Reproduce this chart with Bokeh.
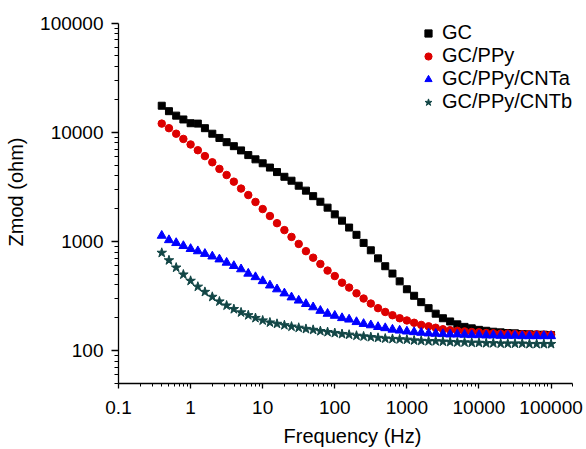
from bokeh.plotting import figure
from bokeh.models import FixedTicker, CustomJSTickFormatter, Legend, LegendItem
from bokeh.embed import file_html
from bokeh.resources import INLINE

freq = [0.398, 0.501, 0.631, 0.794, 1, 1.26, 1.58, 2, 2.51, 3.16, 3.98, 5.01, 6.31, 7.94,
        10, 12.6, 15.8, 20, 25.1, 31.6, 39.8, 50.1, 63.1, 79.4,
        100, 126, 158, 200, 251, 316, 398, 501, 631, 794,
        1000, 1260, 1580, 2000, 2510, 3160, 3980, 5010, 6310, 7940,
        10000, 12600, 15800, 20000, 25100, 31600, 39800, 50100, 63100, 79400, 100000]

gc = [17500, 15600, 14200, 13100, 12100, 12000, 10900, 9700, 8870, 8110, 7460, 6820, 6180, 5650,
      5200, 4750, 4320, 3910, 3600, 3240, 2920, 2600, 2310, 2040,
      1770, 1550, 1340, 1150, 970, 830, 700, 593, 508, 431,
      365, 318, 278, 245, 218, 198, 185, 174, 165, 160,
      155, 152, 149, 147, 145, 144, 142, 141, 140, 140, 139]

gc_ppy = [12000, 10900, 9700, 8690, 7730, 6850, 6050, 5310, 4620, 4060, 3530, 3050, 2660, 2300,
          1980, 1710, 1470, 1270, 1100, 949, 815, 710, 622, 541,
          482, 419, 378, 335, 300, 270, 245, 226, 211, 198,
          189, 180, 172, 167, 162, 157, 154, 152, 150, 148,
          147, 145, 144, 143, 143, 142, 141, 141, 141, 140, 140]

gc_ppy_cnta = [1130, 1030, 969, 910, 855, 815, 771, 730, 686, 640, 597, 557, 508, 472,
               434, 396, 365, 335, 308, 288, 268, 250, 232, 218,
               209, 199, 193, 183, 176, 171, 165, 161, 156, 153,
               150, 148, 146, 144, 143, 142, 141, 141, 140, 139,
               139, 138, 138, 137, 137, 137, 136, 136, 136, 136, 136]

gc_ppy_cntb = [787, 672, 576, 498, 436, 385, 345, 311, 282, 259, 240, 224, 211, 199,
               189, 181, 176, 171, 166, 162, 158, 155, 151, 148,
               145, 142, 140, 137, 135, 133, 131, 129, 128, 127,
               126, 124, 123, 122, 122, 121, 120, 119, 119, 118,
               118, 117, 117, 116, 116, 116, 116, 115, 115, 115, 115]

series_names = ["GC", "GC/PPy", "GC/PPy/CNTa", "GC/PPy/CNTb"]
x_ticks = [0.1, 1, 10, 100, 1000, 10000, 100000]
y_ticks = [100, 1000, 10000, 100000]

FONT = "Liberation Sans"

p = figure(width=586, height=449, x_axis_type="log", y_axis_type="log",
           x_range=(0.1, 310000), y_range=(50, 161000),
           output_backend="svg", toolbar_location=None,
           min_border_left=118, min_border_right=0, min_border_top=0, min_border_bottom=61)
p.outline_line_color = None
p.xgrid.visible = False
p.ygrid.visible = False
p.background_fill_color = "white"
p.border_fill_color = "white"

x_minor = [m * 10.0 ** e for e in range(-1, 6) for m in range(2, 10) if m * 10.0 ** e <= 200000]
y_minor = [m * 10.0 ** e for e in range(1, 5) for m in range(2, 10) if m * 10.0 ** e >= 50]
p.xaxis.ticker = FixedTicker(ticks=x_ticks, minor_ticks=x_minor)
p.yaxis.ticker = FixedTicker(ticks=y_ticks, minor_ticks=y_minor)
p.xaxis.formatter = CustomJSTickFormatter(code="return tick < 1 ? tick.toFixed(1) : tick.toFixed(0);")
p.yaxis.formatter = CustomJSTickFormatter(code="return tick.toFixed(0);")
p.xaxis.bounds = (0.1, 200000)
p.yaxis.bounds = (50, 100000)

for ax in (p.xaxis, p.yaxis):
    ax.axis_line_color = "black"
    ax.axis_line_width = 1.3
    ax.major_tick_line_color = "black"
    ax.minor_tick_line_color = "black"
    ax.major_tick_line_width = 1.3
    ax.minor_tick_line_width = 1
    ax.major_tick_in = 0
    ax.minor_tick_in = 0
    ax.major_label_text_font = FONT
    ax.major_label_text_font_size = "19px"
    ax.major_label_text_color = "black"
    ax.axis_label_text_font = FONT
    ax.axis_label_text_font_size = "20px"
    ax.axis_label_text_font_style = "normal"
    ax.axis_label_text_color = "black"

p.xaxis.major_tick_out = 5
p.xaxis.minor_tick_out = 3
p.yaxis.major_tick_out = 7
p.yaxis.minor_tick_out = 4
p.xaxis.major_label_standoff = 12
p.yaxis.major_label_standoff = 8
p.xaxis.axis_label = "Frequency (Hz)"
p.yaxis.axis_label = "Zmod (ohm)"
p.xaxis.axis_label_standoff = 8
p.yaxis.axis_label_standoff = 10

r1 = p.scatter(freq, gc, marker="square", size=7, color="#000000")
r2 = p.scatter(freq, gc_ppy, marker="circle", size=7.5, color="#dd0000")
r3 = p.scatter(freq, gc_ppy_cnta, marker="triangle", size=9, color="#0000ff")
r4 = p.scatter(freq, gc_ppy_cntb, marker="star", size=10, color="#124646")

legend = Legend(items=[LegendItem(label=n, renderers=[r]) for n, r in zip(series_names, [r1, r2, r3, r4])],
                location=(301, 270), padding=0, margin=0, spacing=0,
                glyph_width=18, glyph_height=18, label_standoff=5,
                label_text_font=FONT, label_text_font_size="20px", label_text_color="black",
                background_fill_alpha=0, border_line_alpha=0)
p.add_layout(legend, "center")

open("out.html", "w").write(file_html(p, INLINE))
